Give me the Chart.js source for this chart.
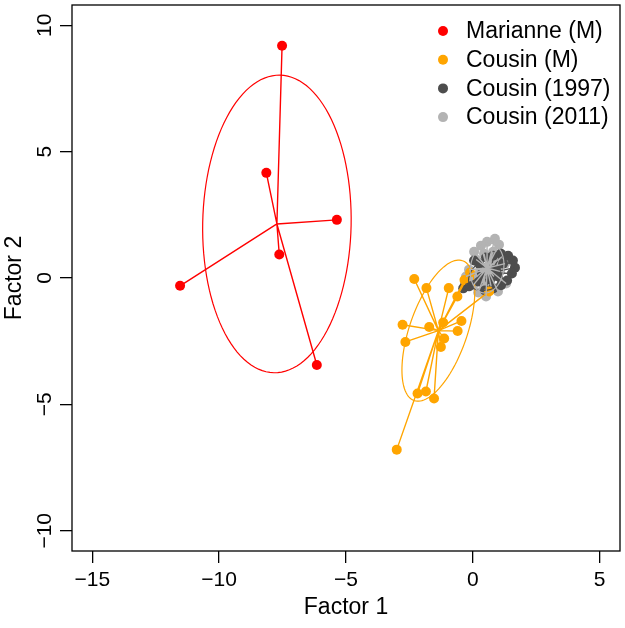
<!DOCTYPE html>
<html>
<head>
<meta charset="utf-8">
<script src="https://cdn.jsdelivr.net/npm/chart.js@4.4.0/dist/chart.umd.min.js"></script>
<style>
  html, body { margin: 0; padding: 0; background: #fff; }
  #wrap { width: 625px; height: 628px; }
</style>
</head>
<body>
<div id="wrap"><canvas id="chart"></canvas></div>
<script>
// groups
const groupNames = ["Marianne (M)", "Cousin (M)", "Cousin (1997)", "Cousin (2011)"];
const groupColors = ["#FF0000", "#FFA500", "#4D4D4D", "#B3B3B3"];

// Marianne (M)
const marianneX = [-7.52, -8.14, -5.36, -7.63, -11.54, -6.15];
const marianneY = [9.19, 4.16, 2.30, 0.93, -0.31, -3.44];

// Cousin (M)
const cousinMX = [-2.31, -1.83, -0.95, -0.61, -0.33, -2.77, -1.72, -1.17, -0.45, -0.60,
                  -2.66, -1.13, -1.26, -2.18, -1.85, -1.53, -3.00, 0.64, -0.11];
const cousinMY = [-0.04, -0.40, -0.40, -0.73, -0.08, -1.85, -1.94, -1.76, -1.70, -2.10,
                  -2.53, -2.39, -2.73, -4.57, -4.49, -4.77, -6.79, -0.53, 0.22];

// Cousin (1997)
const cousin97X = [-0.38, -0.15, -0.30, 0.05, 0.25, 0.52, 0.80, 1.11, 1.39, 1.58, 1.66,
                   1.54, 1.35, 1.11, 0.80, 0.48, 0.21, 0.36, 0.91, 1.19, 0.68, 0.99];
const cousin97Y = [-0.41, -0.33, -0.26, 0.69, 0.57, 0.81, 0.88, 0.96, 0.88, 0.69, 0.41,
                   0.18, -0.10, -0.29, -0.41, -0.49, -0.14, 0.18, 0.33, 0.57, -0.06, 0.06];

// Cousin (2011)
const cousin11X = [-0.15, -0.27, 0.05, 0.32, 0.56, 0.87, 1.03, 0.80, 0.44, 0.13, 1.15, 1.27,
                   1.07, 0.83, 0.60, 0.28, 0.05, 0.40, 0.72, 0.99, 0.52, 0.21, 0.01, 1.31, 0.83];
const cousin11Y = [0.33, 0.06, 1.04, 1.28, 1.43, 1.55, 1.32, 1.04, 0.96, 0.73, 0.84, 0.57,
                   0.26, 0.57, 0.45, 0.26, -0.02, -0.22, -0.33, -0.53, -0.73, -0.57, -0.29, -0.22, 0.06];

// axis ticks
const xTicks = [-15, -10, -5, 0, 5];
const yTicks = [-10, -5, 0, 5, 10];

const groupX = [marianneX, cousinMX, cousin97X, cousin11X];
const groupY = [marianneY, cousinMY, cousin97Y, cousin11Y];

const FONT = "'Liberation Sans', Arial, Helvetica, sans-serif";

function fmt(v) {
  return v < 0 ? "\u2212" + Math.abs(v) : String(v);
}

// mean and covariance of a group (weights 1/n)
function groupStats(xs, ys) {
  const n = xs.length;
  let mx = 0, my = 0;
  for (let i = 0; i < n; i++) { mx += xs[i] / n; my += ys[i] / n; }
  let a = 0, b = 0, c = 0;
  for (let i = 0; i < n; i++) {
    const dx = xs[i] - mx, dy = ys[i] - my;
    a += dx * dx / n; b += dx * dy / n; c += dy * dy / n;
  }
  return { mx, my, a, b, c };
}

// stars and ellipses drawn over the points
const classPlugin = {
  id: "classPlugin",
  afterDatasetsDraw(chart) {
    const ctx = chart.ctx;
    const xs = chart.scales.x, ys = chart.scales.y;
    ctx.save();
    for (let g = 0; g < groupX.length; g++) {
      const s = groupStats(groupX[g], groupY[g]);
      const cx = xs.getPixelForValue(s.mx), cy = ys.getPixelForValue(s.my);
      ctx.strokeStyle = groupColors[g];
      ctx.lineWidth = 1.4;
      // spider lines
      ctx.beginPath();
      for (let i = 0; i < groupX[g].length; i++) {
        ctx.moveTo(cx, cy);
        ctx.lineTo(xs.getPixelForValue(groupX[g][i]), ys.getPixelForValue(groupY[g][i]));
      }
      ctx.stroke();
      // ellipse, 1.5 sd
      const half = (s.a + s.c) / 2;
      const d = Math.sqrt(((s.a - s.c) / 2) ** 2 + s.b * s.b);
      const r1 = 1.5 * Math.sqrt(half + d), r2 = 1.5 * Math.sqrt(Math.max(half - d, 0));
      const th = 0.5 * Math.atan2(2 * s.b, s.a - s.c);
      ctx.lineWidth = 1.2;
      ctx.beginPath();
      for (let k = 0; k <= 120; k++) {
        const t = k / 120 * 2 * Math.PI;
        const u = r1 * Math.cos(t), v = r2 * Math.sin(t);
        const px = xs.getPixelForValue(s.mx + u * Math.cos(th) - v * Math.sin(th));
        const py = ys.getPixelForValue(s.my + u * Math.sin(th) + v * Math.cos(th));
        if (k === 0) ctx.moveTo(px, py); else ctx.lineTo(px, py);
      }
      ctx.stroke();
    }
    ctx.restore();
  },
  afterDraw(chart) {
    const ctx = chart.ctx;
    const a = chart.chartArea;
    const xs = chart.scales.x, ys = chart.scales.y;
    ctx.save();
    // box
    ctx.strokeStyle = "#000";
    ctx.lineWidth = 1.3;
    ctx.strokeRect(a.left, a.top, a.right - a.left, a.bottom - a.top);
    // tick labels
    ctx.fillStyle = "#000";
    ctx.font = "21px " + FONT;
    ctx.textAlign = "center";
    ctx.textBaseline = "middle";
    xTicks.forEach(v => ctx.fillText(fmt(v), xs.getPixelForValue(v), 580));
    yTicks.forEach(v => {
      ctx.save();
      ctx.translate(45, ys.getPixelForValue(v));
      ctx.rotate(-Math.PI / 2);
      ctx.fillText(fmt(v), 0, 0);
      ctx.restore();
    });
    // legend
    ctx.font = "23px " + FONT;
    ctx.textAlign = "left";
    for (let g = 0; g < groupNames.length; g++) {
      const y = 31 + g * 28.7;
      ctx.fillStyle = groupColors[g];
      ctx.beginPath();
      ctx.arc(443, y, 5, 0, 2 * Math.PI);
      ctx.fill();
      ctx.fillStyle = "#000";
      ctx.fillText(groupNames[g], 466, y + 1);
    }
    ctx.restore();
  }
};

const datasets = groupNames.map((name, g) => ({
  label: name,
  data: groupX[g].map((x, i) => ({ x: x, y: groupY[g][i] })),
  backgroundColor: groupColors[g],
  borderWidth: 0,
  pointRadius: 5,
  pointHoverRadius: 5
}));

new Chart(document.getElementById("chart"), {
  type: "scatter",
  data: { datasets: datasets },
  options: {
    responsive: true,
    maintainAspectRatio: false,
    animation: false,
    layout: { padding: { top: 2, right: 3, left: 0, bottom: 0 } },
    plugins: {
      legend: { display: false },
      tooltip: { enabled: false }
    },
    scales: {
      x: {
        type: "linear",
        min: -15.8,
        max: 5.8,
        afterBuildTicks: scale => { scale.ticks = xTicks.map(v => ({ value: v })); },
        afterFit: scale => { scale.height = 77; },
        ticks: { display: false },
        grid: { drawOnChartArea: false, drawTicks: true, tickLength: 12, color: "#000", lineWidth: 1.3 },
        border: { display: false },
        title: {
          display: true, text: "Factor 1", color: "#000",
          font: { size: 23, family: FONT }, padding: { top: 0, bottom: 7 }
        }
      },
      y: {
        type: "linear",
        min: -10.8,
        max: 10.8,
        afterBuildTicks: scale => { scale.ticks = yTicks.map(v => ({ value: v })); },
        afterFit: scale => { scale.width = 72; },
        ticks: { display: false },
        grid: { drawOnChartArea: false, drawTicks: true, tickLength: 12, color: "#000", lineWidth: 1.3 },
        border: { display: false },
        title: {
          display: true, text: "Factor 2", color: "#000",
          font: { size: 23, family: FONT }, padding: { top: 1, bottom: 0 }
        }
      }
    }
  },
  plugins: [classPlugin]
});
</script>
</body>
</html>
